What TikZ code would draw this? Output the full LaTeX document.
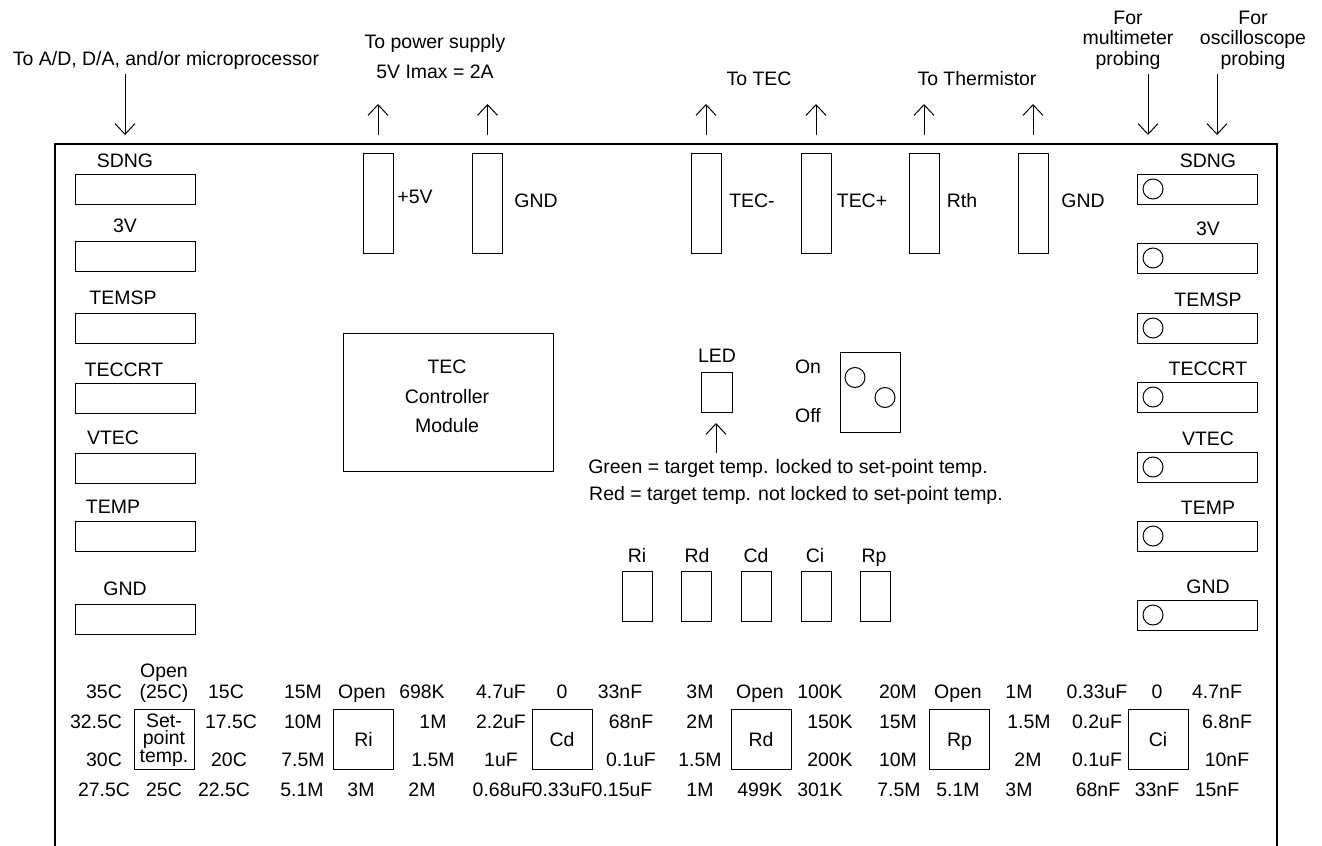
\documentclass[tikz,border=0pt]{standalone}
\usepackage{fontspec}
\setmainfont{Liberation Sans}
\usetikzlibrary{arrows.meta}
\tikzset{
  txt/.style={font=\fontsize{14.6}{17}\selectfont, inner sep=0pt, anchor=base},
  boxbase/.style={draw, line width=0.75pt, inner sep=0pt, text height=10.5pt, text depth=0pt, font=\fontsize{14.6}{17}\selectfont},
  hport/.style={boxbase, minimum width=90pt, minimum height=22.5pt},
  vport/.style={boxbase, minimum width=22.5pt, minimum height=75pt},
  pot/.style={boxbase, minimum width=22.5pt, minimum height=37.5pt},
  dial/.style={boxbase, minimum width=45pt, minimum height=44.5pt},
  hole/.style={draw, circle, line width=0.75pt, inner sep=0pt, minimum size=15pt},
  arr/.style={line width=0.75pt, -{Straight Barb[length=8pt,width=15pt]}},
  board/.style={line width=1.1pt}
}
\newcommand\lab[4]{\node[txt] (#1) at (#2,#3) {#4};}
\begin{document}
\begin{tikzpicture}[x=0.75pt,y=-0.75pt]
\useasboundingbox (0,0) rectangle (1322,846);
% board outline (open at bottom)
\coordinate (bl) at (55,846); \coordinate (tl) at (55,144);
\coordinate (tr) at (1277,144); \coordinate (br) at (1277,846);
\draw[board] (bl) -- (tl) -- (tr) -- (br);

% top labels
\lab{tad}{166}{65}{To A/D, D/A, and/or microprocessor}
\lab{tps}{435}{48}{To power supply}
\lab{tpsb}{435}{78}{5V Imax = 2A}
\lab{ttec}{759}{85}{To TEC}
\lab{tth}{977}{85}{To Thermistor}
\lab{mma}{1128}{25}{For}
\lab{mmb}{1128}{45}{multimeter}
\lab{mmc}{1128}{65}{probing}
\lab{osa}{1253}{25}{For}
\lab{osb}{1253}{45}{oscilloscope}
\lab{osc}{1253}{65}{probing}

% top arrows
\coordinate (adA) at (125,74);  \coordinate (adB) at (125,135);
\draw[arr] (adA) -- (adB);
\coordinate (mmA) at (1148,74); \coordinate (mmB) at (1148,135);
\draw[arr] (mmA) -- (mmB);
\coordinate (osA) at (1217,74); \coordinate (osB) at (1217,135);
\draw[arr] (osA) -- (osB);
\foreach \n/\x in {p5/378, pg/487.5, tm/706, tp/816, rt/924, rg/1033}{
  \coordinate (\n A) at (\x,135); \coordinate (\n B) at (\x,104);
  \draw[arr] (\n A) -- (\n B);
}

% vertical ports
\node[vport] (vp5) at (378,203) {};
\node[vport] (vpg) at (487.5,203) {};
\node[vport] (vtm) at (706,203) {};
\node[vport] (vtp) at (816,203) {};
\node[vport] (vrt) at (924,203) {};
\node[vport] (vrg) at (1033,203) {};
\lab{lp5}{415}{203}{+5V}
\lab{lpg}{536}{207}{GND}
\lab{ltm}{752}{207}{TEC-}
\lab{ltp}{862}{207}{TEC+}
\lab{lrt}{962}{207}{Rth}
\lab{lrg}{1083}{207}{GND}

% left connectors
\lab{lsd}{125}{167}{SDNG}
\node[hport] (Lsd) at (135,189) {};
\lab{l3v}{125}{232}{3V}
\node[hport] (L3v) at (135,256) {};
\lab{lte}{123}{304}{TEMSP}
\node[hport] (Lte) at (135,328) {};
\lab{ltc}{124}{376}{TECCRT}
\node[hport] (Ltc) at (135,398) {};
\lab{lvt}{113}{444}{VTEC}
\node[hport] (Lvt) at (135,468) {};
\lab{ltp2}{113}{513}{TEMP}
\node[hport] (Ltp) at (135,536) {};
\lab{lgn}{125}{595}{GND}
\node[hport] (Lgn) at (135,619) {};

% right connectors with probe holes
\foreach \n/\t/\yl/\yb in {sd/SDNG/167/189, tv/3V/235/258, te/TEMSP/306/328, tc/TECCRT/375/397, vt/VTEC/445/467, tp/TEMP/514/536, gn/GND/593/615}{
  \node[txt] (rl\n) at (1208,\yl) {\t};
  \node[hport] (R\n) at (1197,\yb) {};
  \node[hole] (H\n) at (1153,\yb) {};
}

% controller module
\node[boxbase, minimum width=157.5pt, minimum height=104pt] (mod) at (448,402.5) {};
\lab{moda}{447}{373}{TEC}
\lab{modb}{447}{403}{Controller}
\lab{modc}{447}{432}{Module}

% LED and switch
\lab{led}{717}{362}{LED}
\node[boxbase, minimum width=23.25pt, minimum height=30pt] (ledbox) at (716.5,392) {};
\coordinate (ledA) at (716,453); \coordinate (ledB) at (716,423);
\draw[arr] (ledA) -- (ledB);
\lab{on}{808}{373}{On}
\lab{off}{808}{422}{Off}
\node[boxbase, minimum width=45pt, minimum height=60pt] (sw) at (870,392) {};
\node[hole] (swa) at (855,377.5) {};
\node[hole] (swb) at (885,397.5) {};
\lab{green}{788}{473}{Green = target temp. locked to set-point temp.}
\lab{red}{796}{500}{Red = target temp. not locked to set-point temp.}

% tuning pots
\foreach \n/\x/\lx in {Ri/637/637, Rd/696/697, Cd/756/756, Ci/816/815, Rp/875/874}{
  \node[txt] (l\n) at (\lx,562) {\n};
  \node[pot] (p\n) at (\x,596) {};
}

% set-point dial
\node[dial] (dsp) at (164.5,739.5) {};
\lab{spa}{164}{727}{Set-}
\lab{spb}{164}{744}{point}
\lab{spc}{164}{762}{temp.}
\lab{sopen}{164}{677}{Open}
\lab{s1}{104}{698}{35C}
\lab{s2}{164}{698}{(25C)}
\lab{s3}{226}{698}{15C}
\lab{s4}{96}{728}{32.5C}
\lab{s5}{231}{728}{17.5C}
\lab{s6}{104}{766}{30C}
\lab{s7}{229}{766}{20C}
\lab{s8}{104}{796}{27.5C}
\lab{s9}{164}{796}{25C}
\lab{s10}{224}{796}{22.5C}

% Ri dial
\node[dial] (dri) at (363.5,739.5) {Ri};
\lab{ri1}{303}{698}{15M}
\lab{ri2}{362}{698}{Open}
\lab{ri3}{422}{698}{698K}
\lab{ri4}{303}{728}{10M}
\lab{ri5}{433}{728}{1M}
\lab{ri6}{303}{766}{7.5M}
\lab{ri7}{433}{766}{1.5M}
\lab{ri8}{302}{796}{5.1M}
\lab{ri9}{361}{796}{3M}
\lab{ri10}{422}{796}{2M}

% Cd dial
\node[dial] (dcd) at (562,739.5) {Cd};
\lab{cd1}{501}{698}{4.7uF}
\lab{cd2}{562}{698}{0}
\lab{cd3}{620}{698}{33nF}
\lab{cd4}{501}{728}{2.2uF}
\lab{cd5}{631}{728}{68nF}
\lab{cd6}{501}{766}{1uF}
\lab{cd7}{631}{766}{0.1uF}
\lab{cd8}{503}{796}{0.68uF}
\lab{cd9}{562}{796}{0.33uF}
\lab{cd10}{622}{796}{0.15uF}

% Rd dial
\node[dial] (drd) at (761,739.5) {Rd};
\lab{rd1}{700}{698}{3M}
\lab{rd2}{760}{698}{Open}
\lab{rd3}{820}{698}{100K}
\lab{rd4}{700}{728}{2M}
\lab{rd5}{830}{728}{150K}
\lab{rd6}{700}{766}{1.5M}
\lab{rd7}{830}{766}{200K}
\lab{rd8}{700}{796}{1M}
\lab{rd9}{760}{796}{499K}
\lab{rd10}{820}{796}{301K}

% Rp dial
\node[dial] (drp) at (959.5,739.5) {Rp};
\lab{rp1}{898}{698}{20M}
\lab{rp2}{958}{698}{Open}
\lab{rp3}{1019}{698}{1M}
\lab{rp4}{898}{728}{15M}
\lab{rp5}{1029}{728}{1.5M}
\lab{rp6}{898}{766}{10M}
\lab{rp7}{1028}{766}{2M}
\lab{rp8}{899}{796}{7.5M}
\lab{rp9}{958}{796}{5.1M}
\lab{rp10}{1019}{796}{3M}

% Ci dial
\node[dial] (dci) at (1158,739.5) {Ci};
\lab{ci1}{1097}{698}{0.33uF}
\lab{ci2}{1157}{698}{0}
\lab{ci3}{1217}{698}{4.7nF}
\lab{ci4}{1097}{728}{0.2uF}
\lab{ci5}{1227}{728}{6.8nF}
\lab{ci6}{1097}{766}{0.1uF}
\lab{ci7}{1227}{766}{10nF}
\lab{ci8}{1098}{796}{68nF}
\lab{ci9}{1157}{796}{33nF}
\lab{ci10}{1217}{796}{15nF}
\end{tikzpicture}
\end{document}
